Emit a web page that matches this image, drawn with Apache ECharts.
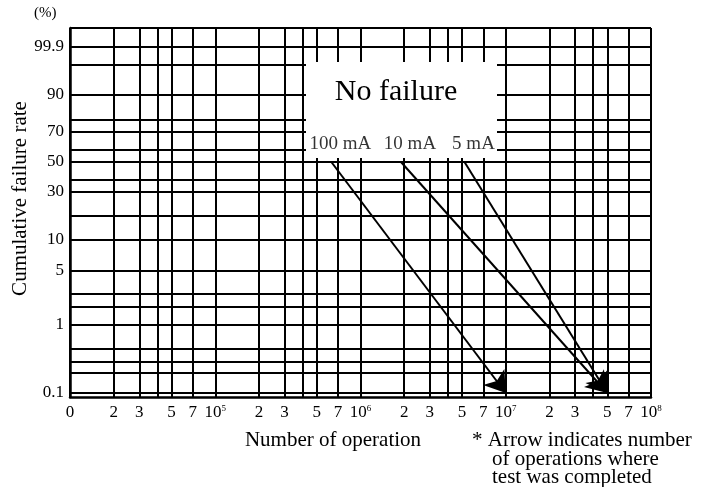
<!DOCTYPE html>
<html>
<head>
<meta charset="utf-8">
<script src="https://cdn.jsdelivr.net/npm/echarts@6/dist/echarts.min.js"></script>
<style>
html, body { margin: 0; padding: 0; background: #fff; }
#chart { width: 703px; height: 487px; }
</style>
</head>
<body>
<div id="chart"></div>
<script>
// grid rows of the probability paper (cumulative failure rate, %)
var rateLines = [0.1, 0.2, 0.3, 0.5, 1, 2, 3, 5, 10, 20, 30, 40, 50, 60, 70, 80, 90, 99, 99.9, 99.99];
var rateLabels = [0.1, 1, 5, 10, 30, 50, 70, 90, 99.9];

// grid columns (number of operations)
var opsLines = [1e4, 2e4, 3e4, 4e4, 5e4, 7e4,
                1e5, 2e5, 3e5, 4e5, 5e5, 7e5,
                1e6, 2e6, 3e6, 4e6, 5e6, 7e6,
                1e7, 2e7, 3e7, 4e7, 5e7, 7e7, 1e8];
var opsLabels = [1e4, 2e4, 3e4, 5e4, 7e4,
                 1e5, 2e5, 3e5, 5e5, 7e5,
                 1e6, 2e6, 3e6, 5e6, 7e6,
                 1e7, 2e7, 3e7, 5e7, 7e7, 1e8];

// test series: arrows from start of test to completion
var currents = ['100 mA', '10 mA', '5 mA'];
var startOps = [6.3e5, 1.9e6, 5.2e6];
var startRate = [50, 50, 50];
var endOps = [1e7, 5e7, 5e7];
var endRate = [0.1, 0.1, 0.1];

// paper scale: cumulative % -> height on the sheet (hand drawn, not linear)
var paperScale = [
	[0.05, 0], [0.1, 4], [0.2, 24], [0.3, 35], [0.5, 48], [1, 72], [2, 90], [3, 103],
	[5, 126], [10, 157], [20, 181], [30, 205], [40, 217], [50, 235], [60, 247],
	[70, 265], [80, 277], [90, 302], [99, 332], [99.9, 350], [99.99, 369]
];

function paper(p) {
	for (var i = 0; i < paperScale.length - 1; i++) {
		var a = paperScale[i], b = paperScale[i + 1];
		if (p <= b[0]) {
			return a[1] + (b[1] - a[1]) * (p - a[0]) / (b[0] - a[0]);
		}
	}
	return paperScale[paperScale.length - 1][1];
}

function lg(v) { return Math.log10(v); }

var FONT = "'Liberation Serif', 'DejaVu Serif', serif";

var LifeChart = function(){
	this.mychart = echarts.init(document.getElementById('chart'));

	this.initChart = function(){
		var arrows = [], marks = [];
		for (var i = 0; i < currents.length; i++) {
			arrows.push({
				name: currents[i],
				coords: [[lg(startOps[i]), paper(startRate[i])], [lg(endOps[i]), paper(endRate[i])]]
			});
			marks.push({ name: currents[i], value: [lg(startOps[i]), paper(startRate[i])] });
		}

		var option = {
			animation: false,
			grid: { left: 70, right: 52, top: 28, bottom: 90, outerBoundsMode: 'none' },
			xAxis: {
				type: 'value',
				min: 4,
				max: 8,
				axisLine: { lineStyle: { color: '#000', width: 2.5 } },
				axisTick: { show: false, customValues: opsLines.map(lg) },
				splitLine: { lineStyle: { color: '#000', width: 2 } },
				axisLabel: {
					customValues: opsLabels.map(lg),
					color: '#000',
					fontFamily: FONT,
					fontSize: 17,
					margin: 7,
					formatter: function(v){
						if (v < 4 + 1e-9) return '0';
						var e = Math.floor(v + 1e-9);
						var m = Math.round(Math.pow(10, v - e));
						if (m === 1 || m === 10) return '{n|10}{s|' + e + '}';
						return String(m);
					},
					rich: {
						n: { fontFamily: FONT, fontSize: 17, color: '#000', verticalAlign: 'top', lineHeight: 18 },
						s: { fontFamily: FONT, fontSize: 9, color: '#000', verticalAlign: 'top', lineHeight: 18 }
					}
				}
			},
			yAxis: {
				type: 'value',
				min: 0,
				max: 369,
				name: 'Cumulative failure rate',
				nameLocation: 'middle',
				nameMoveOverlap: false,
				nameGap: 39,
				nameTextStyle: { color: '#000', fontFamily: FONT, fontSize: 21, padding: [0, 0, 0, 28] },
				axisLine: { lineStyle: { color: '#000', width: 2.5 } },
				axisTick: { show: false, customValues: rateLines.map(paper) },
				splitLine: { lineStyle: { color: '#000', width: 2 } },
				axisLabel: {
					customValues: rateLabels.map(paper),
					color: '#000',
					fontFamily: FONT,
					fontSize: 17,
					margin: 6,
					formatter: function(v){
						for (var k = 0; k < rateLabels.length; k++) {
							if (Math.abs(paper(rateLabels[k]) - v) < 0.01) return String(rateLabels[k]);
						}
						return '';
					}
				}
			},
			graphic: [
				{ type: 'text', left: 34, top: 6, style: { text: '(%)', font: '15px ' + FONT, fill: '#000' } },
				{ type: 'rect', z: 3, shape: { x: 306, y: 62, width: 191, height: 96 }, style: { fill: '#fff' } },
				{ type: 'text', z: 4, x: 396, y: 92, style: { text: 'No failure', font: '30px ' + FONT, fill: '#000', align: 'center', verticalAlign: 'middle' } },
				{ type: 'text', z: 4, x: 333, y: 440, style: { text: 'Number of operation', font: '21px ' + FONT, fill: '#000', align: 'center', verticalAlign: 'middle' } },
				{ type: 'text', z: 4, x: 472, y: 440, style: { text: '* Arrow indicates number', font: '21px ' + FONT, fill: '#000', verticalAlign: 'middle' } },
				{ type: 'text', z: 4, x: 492, y: 459, style: { text: 'of operations where', font: '21px ' + FONT, fill: '#000', verticalAlign: 'middle' } },
				{ type: 'text', z: 4, x: 492, y: 477, style: { text: 'test was completed', font: '21px ' + FONT, fill: '#000', verticalAlign: 'middle' } }
			],
			series: [{
				type: 'lines',
				coordinateSystem: 'cartesian2d',
				z: 10,
				symbol: ['none', 'arrow'],
				symbolSize: [1, 20],
				lineStyle: { color: '#000', width: 2, opacity: 1, curveness: 0 },
				data: arrows
			}, {
				type: 'scatter',
				z: 10,
				symbolSize: 0,
				label: {
					show: true,
					position: 'top',
					distance: 8,
					offset: [9, 0],
					formatter: '{b}',
					color: '#000',
					fontFamily: FONT,
					fontSize: 19
				},
				data: marks
			}]
		};

		this.mychart.setOption(option);
	};
};

var chart = new LifeChart();
chart.initChart();
</script>
</body>
</html>
